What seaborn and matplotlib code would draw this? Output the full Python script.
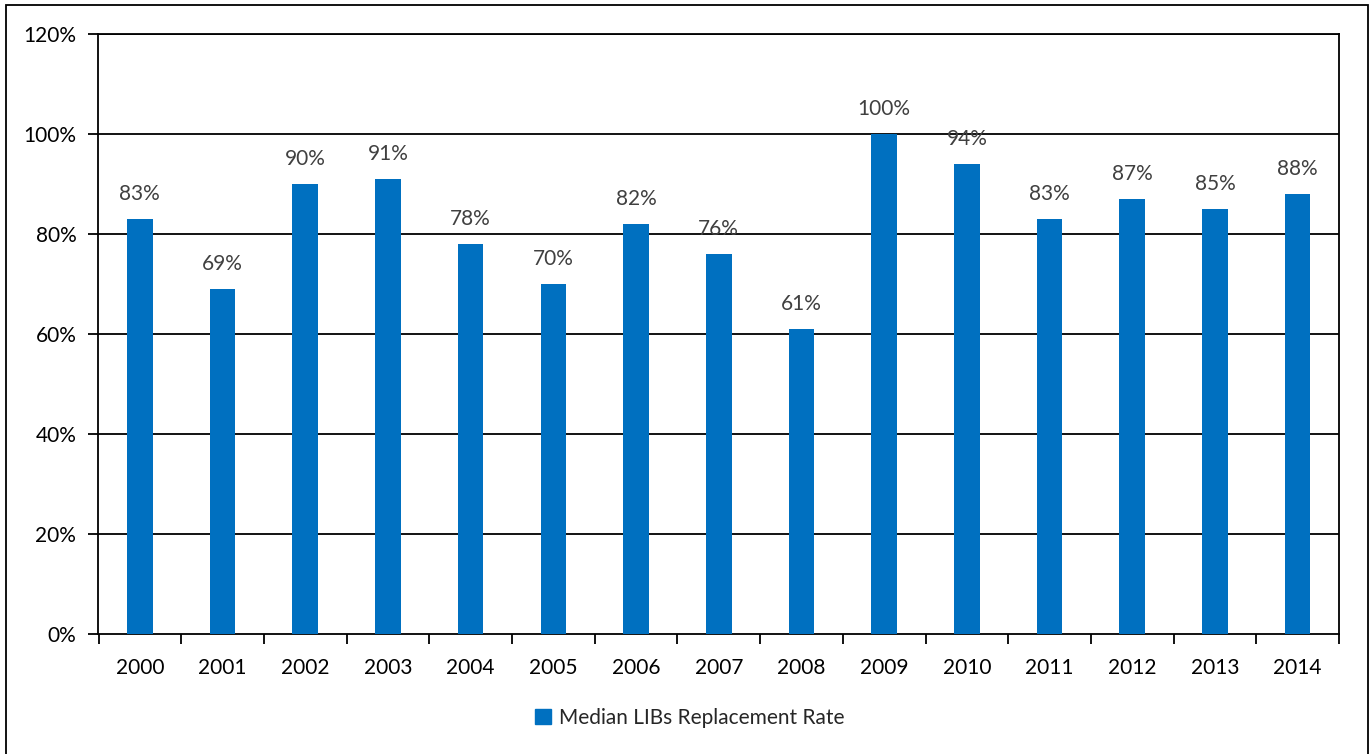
import matplotlib
matplotlib.use("Agg")
import matplotlib.pyplot as plt
import matplotlib.patches as mpatches
from matplotlib.ticker import FixedLocator, FuncFormatter
import seaborn as sns
import pandas as pd

years = ["2000", "2001", "2002", "2003", "2004", "2005", "2006", "2007",
         "2008", "2009", "2010", "2011", "2012", "2013", "2014"]
replacement_rate = [83, 69, 90, 91, 78, 70, 82, 76, 61, 100, 94, 83, 87, 85, 88]
series_name = "Median LIBs Replacement Rate"

sns.set_theme(style="white")
plt.rcParams["font.family"] = ["Lato", "DejaVu Sans"]

df = pd.DataFrame({"year": years, "rate": replacement_rate})

W, H = 1372, 754
FS = 15
fig = plt.figure(figsize=(W / 100, H / 100), dpi=100)
ax = fig.add_axes([98.5 / W, 1 - 634 / H, (1339 - 98.5) / W, (634 - 34) / H])

bar_color = "#0070C0"
sns.barplot(data=df, x="year", y="rate", color=bar_color, width=0.31,
            saturation=1, linewidth=0, edgecolor="none", ax=ax, zorder=3)

ax.set_xlim(-0.5, len(years) - 0.5)
ax.set_ylim(0, 120)
ax.set_xlabel("")
ax.set_ylabel("")

# horizontal gridlines
ax.yaxis.set_major_locator(FixedLocator(range(0, 121, 20)))
ax.yaxis.set_major_formatter(FuncFormatter(lambda v, p: f"{int(v)}%"))
for v in range(20, 121, 20):
    ax.axhline(v, color="black", lw=1.3, zorder=1)

for s in ax.spines.values():
    s.set_color("black")
    s.set_linewidth(1.3)
    s.set_visible(True)

ax.tick_params(axis="y", which="major", direction="out", length=7, width=1.3,
               colors="black", labelsize=FS, pad=9, left=True)
ax.tick_params(axis="x", which="major", length=0, labelsize=FS, pad=17,
               colors="black", bottom=True)
ax.xaxis.set_minor_locator(FixedLocator([i - 0.5 for i in range(len(years) + 1)]))
ax.tick_params(axis="x", which="minor", direction="out", length=7, width=1.3,
               color="black", bottom=True)

# value labels
for i, v in enumerate(replacement_rate):
    ax.text(i, v + 3.0, f"{v}%", ha="center", va="bottom", fontsize=FS,
            color="#404040", zorder=4)

# legend below the axis
handle = mpatches.Patch(color=bar_color, label=series_name)
fig.legend(handles=[handle], loc="center", bbox_to_anchor=(690 / W, 1 - 718 / H),
           frameon=False, fontsize=FS, handlelength=0.75, handleheight=0.75,
           handletextpad=0.4)

# outer chart border
fig.patches.append(mpatches.Rectangle((6 / W, -0.01), (1368 - 6) / W, 1 - 4.5 / H + 0.01,
                                      transform=fig.transFigure, fill=False,
                                      edgecolor="black", lw=1.3))

fig.savefig("out.png", dpi=100, facecolor="white")
